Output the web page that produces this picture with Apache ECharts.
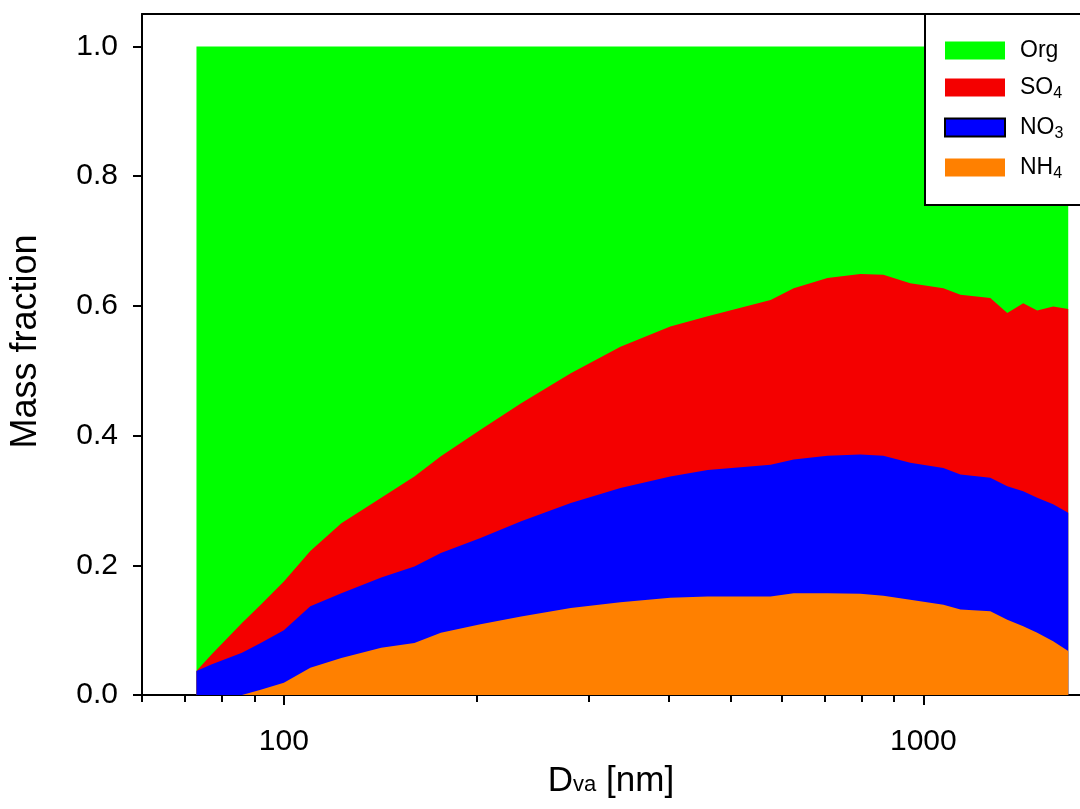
<!DOCTYPE html>
<html>
<head>
<meta charset="utf-8">
<script src="https://cdn.jsdelivr.net/npm/echarts@6/dist/echarts.min.js"></script>
<style>
html,body{margin:0;padding:0;background:#fff;}
#chart{width:1080px;height:809px;}
</style>
</head>
<body>
<div id="chart"></div>
<script>
// Particle diameter D_va [nm]
var diameters = [73, 77, 86, 92, 100, 110, 123, 142, 160, 176, 203, 235, 281, 336, 402, 460, 577, 627, 708, 797, 866, 954, 1075, 1143, 1273, 1353, 1433, 1507, 1596, 1685];
// Mass fractions of each species (stacked: NH4 bottom, then NO3, SO4, Org)
var nh4 = [0.000, 0.000, 0.000, 0.008, 0.019, 0.042, 0.057, 0.073, 0.080, 0.096, 0.109, 0.121, 0.134, 0.143, 0.150, 0.152, 0.152, 0.157, 0.157, 0.156, 0.153, 0.147, 0.139, 0.132, 0.129, 0.116, 0.106, 0.096, 0.083, 0.068];
var no3 = [0.037, 0.047, 0.065, 0.072, 0.081, 0.095, 0.100, 0.108, 0.118, 0.123, 0.133, 0.147, 0.162, 0.176, 0.187, 0.195, 0.203, 0.206, 0.212, 0.215, 0.216, 0.211, 0.211, 0.208, 0.206, 0.206, 0.208, 0.208, 0.211, 0.213];
var so4 = [0.000, 0.015, 0.046, 0.059, 0.075, 0.085, 0.108, 0.123, 0.139, 0.149, 0.167, 0.182, 0.200, 0.218, 0.231, 0.237, 0.254, 0.264, 0.274, 0.278, 0.279, 0.277, 0.277, 0.277, 0.277, 0.267, 0.290, 0.289, 0.305, 0.314];
var org = [0.963, 0.938, 0.889, 0.861, 0.825, 0.778, 0.735, 0.696, 0.663, 0.632, 0.591, 0.550, 0.504, 0.463, 0.432, 0.416, 0.391, 0.373, 0.357, 0.351, 0.352, 0.365, 0.373, 0.383, 0.388, 0.411, 0.396, 0.407, 0.401, 0.405];

var xMajorTicks = [100, 1000];
var xMinorTicks = [60, 70, 80, 90, 200, 300, 400, 500, 600, 700, 800, 900];
var yTicks = [0, 0.2, 0.4, 0.6, 0.8, 1.0];

var FONT = 'Arial, "Liberation Sans", sans-serif';

// stacking order, bottom to top
var species = [
  { name: 'NH4', data: nh4, color: '#ff8000' },
  { name: 'NO3', data: no3, color: '#0000ff' },
  { name: 'SO4', data: so4, color: '#f40000' },
  { name: 'Org', data: org, color: '#00ff00' }
];

// cumulative totals (stacked boundaries) built from the fractions
var running = diameters.map(function () { return 0; });
species.forEach(function (sp) {
  running = running.map(function (r, i) { return r + sp.data[i]; });
  sp.cum = diameters.map(function (d, i) { return [d, Math.round(running[i] * 1000) / 1000]; });
});

var legendLabels = {
  'Org': '{n|Org}',
  'SO4': '{n|SO}{s|4}',
  'NO3': '{n|NO}{s|3}',
  'NH4': '{n|NH}{s|4}'
};

var chart = echarts.init(document.getElementById('chart'), null, { renderer: 'canvas' });

var xBase = { type: 'log', logBase: 10, min: 60, max: 1758, gridIndex: 0 };

// draw top-most boundary first so lower layers paint over it
var drawOrder = species.slice().reverse();

chart.setOption({
  animation: false,
  backgroundColor: '#fff',
  grid: { left: 142, right: 0, top: 14, bottom: 114, containLabel: false, outerBoundsMode: 'none' },
  xAxis: [
    Object.assign({}, xBase, {
      position: 'bottom',
      name: '{d|D}{s|va}{d| [nm]}',
      nameLocation: 'middle',
      nameGap: 66,
      nameMoveOverlap: false,
      nameTextStyle: {
        fontFamily: FONT, color: '#000',
        rich: {
          d: { fontSize: 35, fontFamily: FONT, color: '#000', lineHeight: 40, verticalAlign: 'middle' },
          s: { fontSize: 22, fontFamily: FONT, color: '#000', lineHeight: 22, padding: [26, 0, 5, 0], verticalAlign: 'bottom' }
        }
      },
      axisLine: { show: true, lineStyle: { color: '#000', width: 2 } },
      axisTick: { show: true, inside: false, length: 10, lineStyle: { color: '#000', width: 2 }, customValues: xMajorTicks },
      axisLabel: { show: true, margin: 32, fontSize: 30, fontFamily: FONT, color: '#000', customValues: xMajorTicks,
        formatter: function (v) { return String(Math.round(v)); } },
      splitLine: { show: false },
      minorTick: { show: false }
    }),
    Object.assign({}, xBase, {
      position: 'bottom',
      axisLine: { show: false },
      axisTick: { show: true, inside: false, length: 7, lineStyle: { color: '#000', width: 2 }, customValues: xMinorTicks },
      axisLabel: { show: false },
      splitLine: { show: false }
    }),
    Object.assign({}, xBase, {
      position: 'top',
      axisLine: { show: true, lineStyle: { color: '#000', width: 2 } },
      axisTick: { show: false },
      axisLabel: { show: false },
      splitLine: { show: false }
    })
  ],
  yAxis: {
    type: 'value', min: 0, max: 1.05,
    name: 'Mass fraction',
    nameLocation: 'middle',
    nameGap: 98,
    nameMoveOverlap: false,
    nameTextStyle: { fontSize: 36, fontFamily: FONT, color: '#000', padding: [0, 0, 0, 26] },
    axisLine: { show: true, lineStyle: { color: '#000', width: 2 } },
    axisTick: { show: true, inside: false, length: 9, lineStyle: { color: '#000', width: 2 }, customValues: yTicks },
    axisLabel: { show: true, margin: 24, fontSize: 30, fontFamily: FONT, color: '#000', customValues: yTicks,
      formatter: function (v) { return v.toFixed(1); } },
    splitLine: { show: false }
  },
  legend: {
    orient: 'vertical',
    left: 925, top: 14,
    padding: [25, 90, 23, 19],
    itemGap: 10,
    itemWidth: 60, itemHeight: 18,
    icon: 'rect',
    backgroundColor: '#fff',
    borderColor: '#000', borderWidth: 2,
    selectedMode: false,
    data: [
      { name: 'Org', itemStyle: { color: '#00ff00', borderWidth: 0 } },
      { name: 'SO4', itemStyle: { color: '#f40000', borderWidth: 0 } },
      { name: 'NO3', itemStyle: { color: '#0000ff', borderColor: '#000', borderWidth: 2 } },
      { name: 'NH4', itemStyle: { color: '#ff8000', borderWidth: 0 } }
    ],
    formatter: function (name) { return legendLabels[name]; },
    textStyle: {
      color: '#000', fontFamily: FONT, padding: [0, 0, 0, 10],
      rich: {
        n: { fontSize: 23, fontFamily: FONT, color: '#000', lineHeight: 29, verticalAlign: 'middle' },
        s: { fontSize: 16, fontFamily: FONT, color: '#000', lineHeight: 16, padding: [14, 0, 0, 0], verticalAlign: 'bottom' }
      }
    }
  },
  series: drawOrder.map(function (sp) {
    return {
      name: sp.name,
      type: 'line',
      xAxisIndex: 0,
      yAxisIndex: 0,
      data: sp.cum,
      showSymbol: false,
      symbol: 'none',
      smooth: false,
      lineStyle: { width: 0, color: sp.color },
      itemStyle: { color: sp.color },
      areaStyle: { color: sp.color, opacity: 1, origin: 'start' },
      emphasis: { disabled: true },
      z: 2
    };
  })
});
</script>
</body>
</html>
